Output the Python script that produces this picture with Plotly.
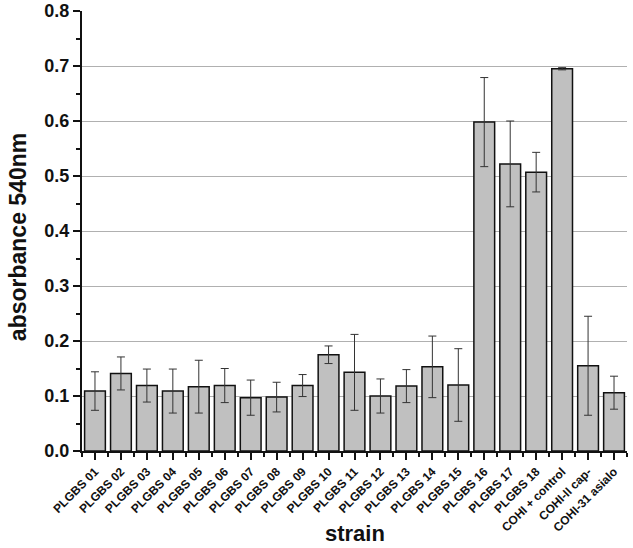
import plotly.graph_objects as go

categories = ["PLGBS 01", "PLGBS 02", "PLGBS 03", "PLGBS 04", "PLGBS 05", "PLGBS 06",
              "PLGBS 07", "PLGBS 08", "PLGBS 09", "PLGBS 10", "PLGBS 11", "PLGBS 12",
              "PLGBS 13", "PLGBS 14", "PLGBS 15", "PLGBS 16", "PLGBS 17", "PLGBS 18",
              "COHI + control", "COHI-II cap-", "COHI-31 asialo"]
absorbance = [0.109, 0.141, 0.119, 0.109, 0.117, 0.119, 0.097, 0.098, 0.119, 0.175,
              0.143, 0.100, 0.118, 0.153, 0.120, 0.598, 0.522, 0.507, 0.695, 0.155, 0.106]
errors = [0.035, 0.030, 0.030, 0.040, 0.048, 0.031, 0.032, 0.027, 0.020, 0.016,
          0.069, 0.031, 0.030, 0.056, 0.066, 0.081, 0.078, 0.036, 0.002, 0.090, 0.030]
y_ticks = [0.0, 0.1, 0.2, 0.3, 0.4, 0.5, 0.6, 0.7, 0.8]

FONT = "Arial, 'Liberation Sans', sans-serif"
x = list(range(len(categories)))

fig = go.Figure()
fig.add_trace(go.Bar(
    x=x, y=absorbance,
    marker=dict(color="#c0c0c0", line=dict(color="#111111", width=1.5)),
    error_y=dict(type="data", array=errors, visible=True, color="#333333",
                 thickness=1, width=4),
    width=0.8,
))

fig.update_layout(
    width=633, height=548,
    margin=dict(l=82, r=6, t=11, b=97, autoexpand=False),
    paper_bgcolor="white", plot_bgcolor="white",
    showlegend=False,
    font=dict(family=FONT, color="#111111"),
    annotations=[
        dict(text="<b>strain</b>", xref="paper", yref="paper", x=0.5, y=0,
             xanchor="center", yanchor="middle", yshift=-82, showarrow=False,
             font=dict(size=22, family=FONT, color="#111111")),
        dict(text="<b>absorbance 540nm</b>", xref="paper", yref="paper", x=0, y=0.486,
             xanchor="center", yanchor="middle", xshift=-64, textangle=-90,
             showarrow=False, font=dict(size=23, family=FONT, color="#111111")),
    ],
)
fig.update_xaxes(
    range=[-0.5, len(categories) - 0.5], automargin=False,
    tickmode="array", tickvals=x, ticktext=[f"<b>{c}</b>" for c in categories],
    tickangle=-45, tickfont=dict(size=12, family=FONT, color="#111111"),
    ticks="outside", ticklen=7, tickwidth=1.5, tickcolor="#111111",
    minor=dict(tickmode="linear", tick0=-0.5, dtick=1, ticks="outside",
               ticklen=4, tickwidth=1.5, tickcolor="#111111"),
    showline=True, linecolor="#111111", linewidth=2,
    showgrid=False, zeroline=False, ticklabeloverflow="allow",
)
fig.update_yaxes(
    range=[0, 0.8], automargin=False,
    tickmode="array", tickvals=y_ticks, ticktext=[f"<b>{v:.1f}</b>" for v in y_ticks],
    tickfont=dict(size=18, family=FONT, color="#111111"),
    ticks="outside", ticklen=7, tickwidth=1.5, tickcolor="#111111",
    minor=dict(tickmode="linear", tick0=0.05, dtick=0.1, ticks="outside",
               ticklen=4, tickwidth=1.5, tickcolor="#111111"),
    showline=True, linecolor="#111111", linewidth=2,
    showgrid=True, gridcolor="#b0b0b0", gridwidth=1, zeroline=False,
    ticklabeloverflow="allow",
)

fig.write_html("out.html", config={"displayModeBar": False},
               post_script="document.body.style.margin='0';")
